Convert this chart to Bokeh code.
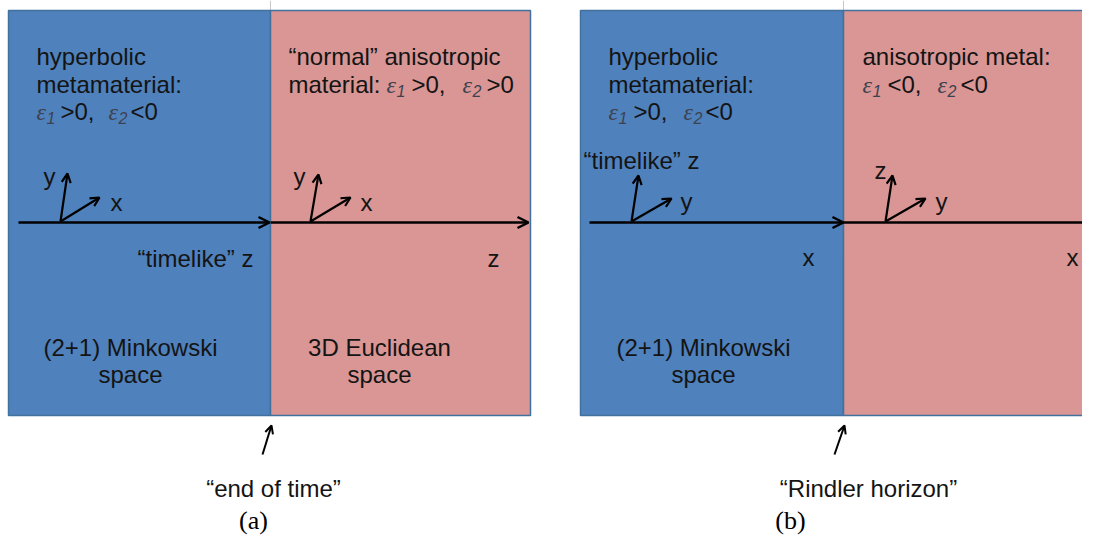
from bokeh.plotting import figure
from bokeh.models import ColumnDataSource, Range1d, Arrow, OpenHead
from bokeh.core.properties import value
from bokeh.embed import file_html
from bokeh.resources import INLINE

BLUE = "#4F81BD"
PINK = "#D99694"
EDGE = "#41719C"
INK = "#141414"
EPS = "#3d4150"
SANS = "Liberation Sans"
SERIF = "Liberation Serif"

# ---- regions (two panels, each: hyperbolic medium | other medium)
region_left = [8, 270, 580, 843]
region_right = [270, 530, 843, 1110]
region_fill = [BLUE, PINK, BLUE, PINK]
region_top = [10, 10, 10, 10]
region_bottom = [415, 415, 415, 415]

# ---- long horizontal axes
axis_x0 = [18, 270, 589, 843]
axis_x1 = [269, 528, 843, 1097]
axis_y = [222, 222, 222, 222]

# ---- small coordinate frames
frame_ox = [60, 310, 631, 885]
frame_oy = [221, 221, 221, 221]
frame_up_x = [67, 318, 638, 892]
frame_up_y = [173, 174, 175, 175]
frame_side_x = [99, 350, 671, 925]
frame_side_y = [197, 197, 198, 198]

# ---- boundary pointers
ptr_x0 = [262, 834]
ptr_y0 = [454, 454]
ptr_x1 = [271, 844]
ptr_y1 = [425, 425]

# ---- plain labels (left aligned)
lab_text = ["hyperbolic", "metamaterial:",
            "\u201cnormal\u201d anisotropic", "material:",
            "hyperbolic", "metamaterial:",
            "anisotropic metal:",
            "y", "x", "y", "x",
            "\u201ctimelike\u201d z", "z",
            "\u201ctimelike\u201d z", "y", "z", "y",
            ">0,", "<0", ">0,", ">0", ">0,", "<0", "<0,", "<0"]
lab_x = [36, 36, 288, 288, 608, 608, 862,
         43, 110, 293, 360,
         137, 487,
         583, 680, 874, 935,
         60, 130, 411, 486, 633, 705, 887, 960]
lab_y = [56, 84, 56, 84, 56, 84, 56,
         176, 202, 176, 202,
         258, 258,
         160, 201, 170, 201,
         111, 111, 84, 84, 111, 111, 84, 84]

# ---- centred labels
cen_text = ["(2+1) Minkowski", "space", "3D Euclidean", "space",
            "(2+1) Minkowski", "space", "x", "x",
            "\u201cend of time\u201d", "\u201cRindler horizon\u201d"]
cen_x = [130, 130, 379, 379, 703, 703, 808, 1072, 273, 868]
cen_y = [347, 374, 347, 374, 347, 374, 257, 257, 488, 488]

# ---- epsilon symbols with subscripts
eps_x = [36, 108, 386, 462, 608, 683, 862, 937]
eps_y = [111, 111, 84, 84, 111, 111, 84, 84]
eps_sub = ["1", "2", "1", "2", "1", "2", "1", "2"]

# ---- panel captions
cap_text = ["(a)", "(b)"]
cap_x = [253, 790]
cap_y = [520, 520]

p = figure(width=1082, height=538, x_range=Range1d(0, 1082), y_range=Range1d(538, 0),
           output_backend="svg", toolbar_location=None, min_border=0)
p.axis.visible = False
p.grid.visible = False
p.outline_line_color = None
p.background_fill_color = "white"
p.border_fill_color = "white"

# thin guide lines above the dividers
p.segment(x0=[270, 843], y0=[0, 0], x1=[270, 843], y1=[10, 10], line_color="#c8c8c8", line_width=1)

p.quad(left=region_left, right=region_right, top=region_top, bottom=region_bottom,
       fill_color=region_fill, line_color=EDGE, line_width=1.5)

ax_src = ColumnDataSource(dict(x0=axis_x0, x1=axis_x1, y=axis_y))
p.add_layout(Arrow(source=ax_src, x_start="x0", y_start="y", x_end="x1", y_end="y",
                   line_color="black", line_width=2.5,
                   end=OpenHead(size=11, line_width=2.5, line_color="black")))

fr_src = ColumnDataSource(dict(ox=frame_ox, oy=frame_oy, ux=frame_up_x, uy=frame_up_y,
                               sx=frame_side_x, sy=frame_side_y))
p.add_layout(Arrow(source=fr_src, x_start="ox", y_start="oy", x_end="ux", y_end="uy",
                   line_color="black", line_width=2.2,
                   end=OpenHead(size=9, line_width=2.2, line_color="black")))
p.add_layout(Arrow(source=fr_src, x_start="ox", y_start="oy", x_end="sx", y_end="sy",
                   line_color="black", line_width=2.2,
                   end=OpenHead(size=9, line_width=2.2, line_color="black")))

ptr_src = ColumnDataSource(dict(x0=ptr_x0, y0=ptr_y0, x1=ptr_x1, y1=ptr_y1))
p.add_layout(Arrow(source=ptr_src, x_start="x0", y_start="y0", x_end="x1", y_end="y1",
                   line_color="black", line_width=2,
                   end=OpenHead(size=8, line_width=2, line_color="black")))

p.text(x=lab_x, y=lab_y, text=lab_text, text_font=value(SANS), text_font_size="24px",
       text_color=INK, text_align="left", text_baseline="alphabetic")
p.text(x=cen_x, y=cen_y, text=cen_text, text_font=value(SANS), text_font_size="24px",
       text_color=INK, text_align="center", text_baseline="alphabetic")

p.text(x=eps_x, y=eps_y, text=["\u03b5"] * len(eps_x), text_font=value(SERIF),
       text_font_style="italic", text_font_size="24px", text_color=EPS,
       text_align="left", text_baseline="alphabetic")
p.text(x=[v + 10 for v in eps_x], y=[v + 6 for v in eps_y], text=eps_sub,
       text_font=value(SANS), text_font_style="italic", text_font_size="16px",
       text_color=EPS, text_align="left", text_baseline="alphabetic")

p.text(x=cap_x, y=cap_y, text=cap_text, text_font=value(SERIF), text_font_size="26px",
       text_color="black", text_align="center", text_baseline="alphabetic")

open("out.html", "w").write(file_html(p, INLINE))
